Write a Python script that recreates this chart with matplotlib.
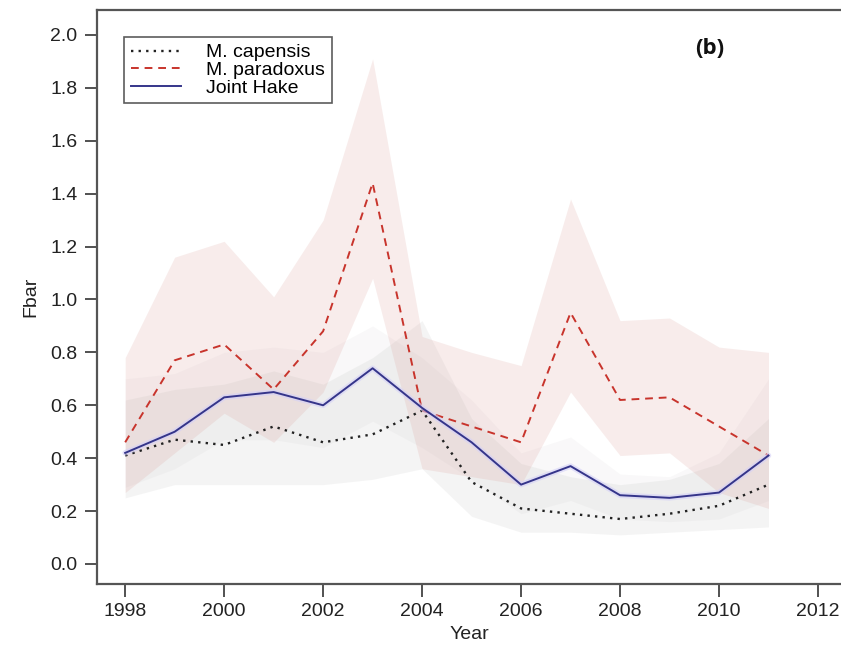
import matplotlib
matplotlib.use("Agg")
import matplotlib.pyplot as plt
import numpy as np

plt.rcParams['font.family'] = ['Liberation Sans', 'DejaVu Sans']

years = [1998, 1999, 2000, 2001, 2002, 2003, 2004, 2005, 2006, 2007, 2008, 2009, 2010, 2011]

# Mean fishing mortality (Fbar)
capensis = [0.41, 0.47, 0.45, 0.52, 0.46, 0.49, 0.58, 0.31, 0.21, 0.19, 0.17, 0.19, 0.22, 0.30]
paradoxus = [0.46, 0.77, 0.83, 0.66, 0.88, 1.44, 0.58, 0.52, 0.46, 0.95, 0.62, 0.63, 0.52, 0.41]
joint = [0.42, 0.50, 0.63, 0.65, 0.60, 0.74, 0.59, 0.46, 0.30, 0.37, 0.26, 0.25, 0.27, 0.41]

# Confidence bands
paradoxus_lo = [0.27, 0.42, 0.57, 0.46, 0.65, 1.08, 0.36, 0.33, 0.30, 0.65, 0.41, 0.42, 0.27, 0.21]
paradoxus_hi = [0.78, 1.16, 1.22, 1.01, 1.30, 1.91, 0.86, 0.80, 0.75, 1.38, 0.92, 0.93, 0.82, 0.80]
capensis_lo = [0.25, 0.30, 0.30, 0.30, 0.30, 0.32, 0.36, 0.18, 0.12, 0.12, 0.11, 0.12, 0.13, 0.14]
capensis_hi = [0.62, 0.66, 0.68, 0.73, 0.68, 0.78, 0.92, 0.55, 0.38, 0.33, 0.30, 0.32, 0.38, 0.55]
joint_lo = [0.29, 0.36, 0.47, 0.47, 0.44, 0.54, 0.44, 0.32, 0.19, 0.24, 0.17, 0.16, 0.17, 0.24]
joint_hi = [0.70, 0.72, 0.80, 0.82, 0.80, 0.90, 0.78, 0.62, 0.42, 0.48, 0.34, 0.33, 0.42, 0.70]

xticks = [1998, 2000, 2002, 2004, 2006, 2008, 2010, 2012]
yticks = [0.0, 0.2, 0.4, 0.6, 0.8, 1.0, 1.2, 1.4, 1.6, 1.8, 2.0]

fig = plt.figure(figsize=(8.41, 6.58), dpi=100)
ax = fig.add_axes([0.1153, 0.1125, 0.8847, 0.8723])

ax.fill_between(years, capensis_lo, capensis_hi, color=(0.6, 0.6, 0.6), alpha=0.1, linewidth=0)
ax.fill_between(years, joint_lo, joint_hi, color=(0.6, 0.58, 0.6), alpha=0.06, linewidth=0)
ax.fill_between(years, paradoxus_lo, paradoxus_hi, color=(0.85, 0.6, 0.58), alpha=0.18, linewidth=0)

ax.plot(years, capensis, color='#222222', linestyle=(0, (1, 2.2)), linewidth=1.7,
        label='M. capensis')
ax.plot(years, paradoxus, color='#c8342c', linestyle=(0, (4, 3)), linewidth=1.4,
        label='M. paradoxus')
ax.plot(years, joint, color='#d4d0f8', linewidth=4.0, alpha=0.6, solid_capstyle='round')
ax.plot(years, joint, color='#35358a', linewidth=1.4, label='Joint Hake')

ax.set_xlim(1997.43, 2012.465)
ax.set_ylim(-0.0756, 2.0945)
ax.set_xticks(xticks)
ax.set_xticklabels([str(v) for v in xticks])
ax.set_yticks(yticks)
ax.set_yticklabels([f"{v:.1f}" for v in yticks])
ax.tick_params(axis='both', direction='out', length=9, width=1.2, color='#333333',
               labelsize=14, labelcolor='#222222', pad=5)

for side in ('left', 'bottom', 'top'):
    ax.spines[side].set_linewidth(1.6)
    ax.spines[side].set_color('#555555')
ax.spines['right'].set_visible(False)

ax.set_xlabel('Year', fontsize=14, color='#222222', labelpad=4)
ax.set_ylabel('Fbar', fontsize=14, color='#222222', labelpad=8)

leg = ax.legend(loc='upper left', bbox_to_anchor=(0.036, 0.953), fontsize=14,
                frameon=True, fancybox=False, edgecolor='#333333', handlelength=2.6,
                borderpad=0.35, labelspacing=0.0, handletextpad=1.3, borderaxespad=0)
leg.get_frame().set_linewidth(1.2)

ax.text(710 / 841, 1 - 48 / 658, '(b)', transform=fig.transFigure, fontsize=16,
        fontweight='bold', family=['Open Sans', 'DejaVu Sans'], color='#111111',
        ha='center', va='center')

fig.savefig('out.png', dpi=100)
